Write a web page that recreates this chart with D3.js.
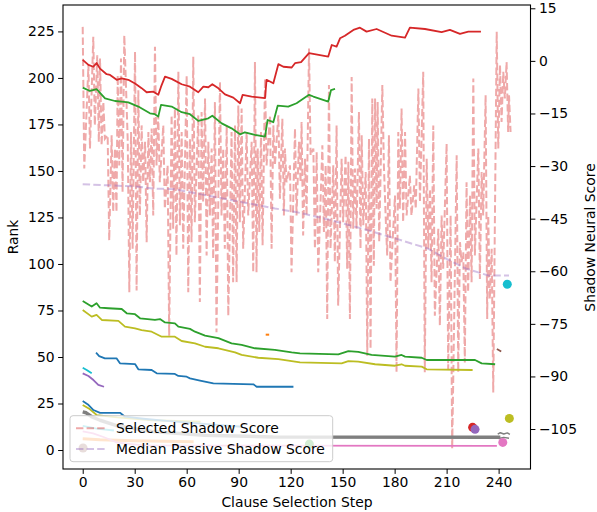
<!DOCTYPE html>
<html><head><meta charset="utf-8">
<script src="https://cdn.jsdelivr.net/npm/d3@7"></script>
<style>body{margin:0;background:#fff} text{font-family:"DejaVu Sans",sans-serif}</style>
</head><body><svg id="c" width="597" height="512"></svg>
<script>
// ---------- data ----------
const xTicks = [0,30,60,90,120,150,180,210,240];
const rankTicks = [0,25,50,75,100,125,150,175,200,225];
const scoreTicks = [15,0,-15,-30,-45,-60,-75,-90,-105];

// Selected Shadow Score: [step, spike top, spike bottom]
const selectedSpikes = [
[0,9.7,-30.7],[3.3,-1.2,-25.0],[6.1,6.9,-18.4],[8.4,1.6,-23.1],[10,0.7,-24.1],[11.9,-11.7,-22.2],
[14.4,-21.2,-51.2],[16.7,-21.2,-43.1],[18.6,-25.0,-43.1],[20.2,-4.1,-29.8],[22.1,0.7,-37.4],[24.0,7.3,-6.0],
[26.0,-23.1,-66.0],[27.9,-20.3,-53.6],[30.2,2.6,-65.5],[32.1,-8.4,-44.1],[34.0,-18.4,-34.6],[36.0,-23.1,-51.7],
[37.9,-20.3,-34.6],[39.8,-19.3,-44.1],[41.7,4.0,-29.8],[43.6,-15.5,-34.6],[46.5,-18.4,-42.2],[49.0,-29.8,-78.4],
[51.3,-15.5,-47.9],[53.2,-13.6,-55.5],[55.2,-3.1,-46.9],[57.1,-20.3,-53.6],[60.0,-4.1,-66.0],[61.9,-22.2,-51.7],
[63.8,1.2,-46.0],[66.7,-15.5,-68.8],[68.6,-14.6,-40.3],[70.6,-10.7,-55.5],[72.5,-23.1,-44.1],[74.4,-25.0,-56.5],
[76.3,-11.7,-77.4],[79.2,-6.0,-44.1],[81.1,-25.0,-53.6],[83.1,-18.4,-72.7],[85.9,-20.3,-63.1],[87.9,-18.4,-63.1],
[89.8,-12.7,-46.0],[91.7,-13.6,-53.6],[94.6,-20.3,-44.1],[97.5,-23.1,-60.3],[99.4,-0.3,-60.3],[101,-25.0,-48.8],
[102.9,-20.3,-52.6],[105.2,-5.0,-29.8],[108.1,-15.5,-53.6],[110,-18.4,-29.8],[112.9,-15.5,-39.3],[115.2,-16.5,-44.1],
[116.7,-25.0,-34.6],[119.6,-29.8,-60.3],[122.5,-19.3,-44.1],[124.8,-23.1,-34.6],[126.3,-17.4,-49.8],[128.3,-27.9,-44.1],
[130.6,3.5,-26.9],[133.1,-25.0,-53.6],[135,-26.0,-60.3],[138.3,-24.1,-48.8],[140.2,-29.8,-73.6],[142.1,-6.9,-53.6],
[144.6,-29.8,-57.4],[146.5,-18.4,-69.8],[149.4,-27.9,-46.0],[151.7,-26.9,-59.3],[153.3,-28.8,-73.6],[155.2,-4.6,-47.9],
[157.1,-30.7,-47.9],[159.4,-14.6,-53.6],[161,-21.2,-46.9],[163.3,-31.7,-84.1],[165.2,-22.2,-82.2],[167.1,-10.7,-58.4],
[168.7,-10.7,-42.2],[170.2,-11.7,-51.7],[172.9,-6.9,-29.8],[174.8,-44.1,-55.5],[176.7,-21.2,-63.1],[180.2,-38.4,-88.8],
[182.1,-20.3,-42.2],[184,-13.6,-46.0],[186,-20.3,-44.1],[188.8,-32.7,-44.1],[191.3,-35.5,-42.2],[193.7,-7.9,-40.3],
[196.5,-3.1,-88.8],[198.5,-27.9,-53.6],[200.4,-36.5,-63.1],[202.3,-18.4,-72.7],[205.2,-47.9,-75.5],[207.1,-44.1,-59.3],
[210,-23.6,-87.9],[212.3,-44.1,-110.7],[215.8,-26.9,-88.8],[217.7,-51.7,-57.4],[219.6,-54.6,-86.0],[221.5,-34.6,-66.0],
[223.5,-38.4,-63.1],[225.4,-5.0,-55.5],[228.3,-25.0,-62.2],[230.2,-31.7,-44.1],[232.5,-9.8,-73.6],[234,-44.1,-67.9],
[236,-53.6,-94.6],[238.9,8.3,-25.0],[240.8,-1.2,-17.4],[242.7,-3.1,-10.7],[244.6,-0.3,-20.3],[246,-9.8,-20.3]
];
const medianPassive = [[0,-35.2],[15,-35.5],[30,-35.8],[40.6,-36.4],[53,-36.6],[67.8,-38.0],[92,-40.3],[111,-42.1],
[123,-43.1],[140,-45],[161,-47.8],[180,-50.6],[199,-53.5],[210,-56.5],[221,-59.2],[234,-61.2],[246,-61.2]];

// Rank trajectories [step, rank]
const rankRed = [[0,209.7],[3.3,207],[6.1,206],[8,208],[10,205],[13.8,202],[15.8,201.6],[19.6,199],[22.5,199.8],[26.3,199],
[30.2,197],[34,194.5],[36.9,192.3],[40.8,192.6],[43.6,190.9],[45.2,195.3],[47.5,200.7],[51.3,199.5],[57.1,196.6],[61.9,195.3],
[66.7,192.3],[69.6,195.3],[72.5,195],[74.8,196.6],[78.3,194.4],[82.1,191.2],[86.9,189.4],[90.8,186.4],[92.3,190.9],[97.5,190],
[105.2,189.1],[106.1,199],[110,197.1],[112.9,207.4],[115.8,206],[120.6,205.6],[122.5,207.9],[126,208.5],[130.6,213.3],
[141.7,211.5],[143.7,217.7],[146.5,216.8],[148.5,221.3],[151.3,222.7],[156.2,225.8],[160,227],[163.8,224.9],[169.6,226.3],
[178.3,222.7],[186,221.7],[188.8,227],[197.5,226.3],[207.1,224.6],[211.9,225.8],[217.7,223.7],[222.5,224.9],[229.8,224.9]];
const rankGreenTop = [[0,194.8],[4.2,193],[8,194],[12.9,189],[18.6,187.6],[22.5,187.3],[26.3,186.9],[32.1,184.6],[38.8,181],
[41.7,180.5],[43.6,179.2],[45.2,185.5],[51.3,184.6],[57.1,181.6],[61.9,180.5],[66.7,176.9],[72.5,178.3],[74.8,179.7],
[80.2,175.6],[85.9,172.9],[90.8,169.7],[93.6,170.8],[99.4,169.4],[105.2,168.5],[106.7,177.4],[110,176.2],[112.5,185.1],
[118.6,184.6],[123.4,186.4],[130.6,190.9],[133.1,190],[141.7,187.3],[143.3,193.5],[145.6,194.1]];
const rankGreenLow = [[0,80.1],[5.2,77.1],[8,78.9],[10,76.5],[14.8,76.2],[22.5,75.8],[25.4,73.5],[30.2,73],[33.1,70.8],
[41.7,69.9],[44.6,70.4],[47.5,68.6],[53.2,68.1],[55.2,66.3],[61.9,65.1],[64.8,63.6],[70.6,61.5],[78.3,60.1],[85.9,57.3],
[91.7,56.5],[99.4,54.7],[110.9,53.8],[120.6,52.5],[125.4,52],[147.5,51.4],[153.3,53.2],[159,52.8],[166.7,51.1],[180.2,50.2],
[184,51.1],[186,50.2],[195.6,49.6],[198.5,48.4],[226.4,48.4],[230.2,46.6],[238,46.1]];
const rankOlive = [[0,75.3],[5.2,71.7],[8,72.6],[11,69.9],[20.6,69.4],[24.4,66.3],[30.2,65.4],[34,64.5],[39.8,63.6],[45.6,60.9],
[53.2,60.9],[57.1,58.6],[64.8,57.3],[70.6,55.5],[78.3,54.7],[87.9,52.5],[91.7,51.1],[101.3,49.6],[112.9,48.9],[125.4,47.1],
[149.4,46.6],[153.3,47.8],[159,47.5],[168.7,46.1],[180.2,45.3],[184,46.1],[186,45.3],[195.6,44.8],[198.5,43.4],[225,43]];
const rankBlue = [[7.7,52.3],[9.5,50.5],[12.8,49.3],[19.5,49.3],[21.5,46.6],[30.2,46.2],[32.1,43.4],[39.8,43],[42.7,41.2],
[53.2,40.9],[55.2,39.8],[60,39.4],[61.9,38.5],[67.7,37.3],[75.4,35.8],[98.5,35.3],[100.4,34],[121.6,34]];
const rankCyan = [[0,44.2],[2.3,43],[5.2,41.2]];
const rankPurple = [[0,41.2],[3.3,39.8],[6.2,37.6],[9,35],[12.3,34]];
const rankBlueLow = [[0,26.3],[3,24.5],[6.2,21.5],[10,20],[21.5,20],[24.4,17.9],[35,16.8],[50,15.5],[70,14],[92,12.5]];
const rankOliveLow = [[0,24.2],[4,22],[8.1,18.8],[20,17.5],[40,16],[68,15.2]];
const rankGray = [[0,20.5],[2,20],[5,18],[10,16],[20,13],[40,10],[70,8],[110,7],[241,6.8]];
const rankOrange = [[0,6],[10,5.5],[30,5],[64,4.5]];
const rankPink = [[0,10],[6,9],[12,7],[20,4],[35,2.5],[239,2.2]];
const rankCyanLow = [[0,13],[8,11.5],[18,10.5]];
const rankOrangeBit = [[105.6,62],[107.6,62]];
const rankBrownBit = [[239,54.3],[241.5,53]];
const rankGrayEndA = [[239.5,8.5],[241,9.3],[243,8.6],[245,9.2],[246.5,8.4]];
const rankGrayEndB = [[240,6.2],[243,6.8],[246,6.3]];
// final positions [step, rank, colour]
const finalDots = [[245,89.1,"cyan"],[246.2,17,"olive"],[225,12.2,"red"],[226.4,11.1,"purple"],[242.4,4.1,"pink"],
[130.8,3.2,"green"],[0.2,1.1,"brown"]];

const legendLabels = ["Selected Shadow Score","Median Passive Shadow Score"];

// ---------- drawing ----------
const FS = 13.9;
const C = {blue:"#1f77b4",orange:"#ff7f0e",green:"#2ca02c",red:"#d62728",purple:"#9467bd",brown:"#8c564b",
  pink:"#e377c2",gray:"#7f7f7f",olive:"#bcbd22",cyan:"#17becf"};
const L=63,R=530.5,T=5,B=469;
const x = d3.scaleLinear().domain([-11.37,258.4]).range([L,R]);
const y = d3.scaleLinear().domain([-10.2,239.2]).range([B,T]);
const y2 = d3.scaleLinear().domain([-116.4,15.94]).range([B,T]);
const svg = d3.select("#c");
svg.append("defs").append("clipPath").attr("id","pa").append("rect")
  .attr("x",L).attr("y",T).attr("width",R-L).attr("height",B-T);
const g = svg.append("g").attr("clip-path","url(#pa)");

const line1 = d3.line().x(d=>x(d[0])).y(d=>y(d[1]));
const line2 = d3.line().x(d=>x(d[0])).y(d=>y2(d[1]));

// shadow scores (right axis)
const selPts = selectedSpikes.flatMap(([s,t,b]) => [[s,t],[s+0.9,b]]);
g.append("path").attr("d",line2(selPts)).attr("fill","none").attr("stroke",C.red).attr("stroke-opacity",0.4)
  .attr("stroke-width",2).attr("stroke-dasharray","7.4,3.2");
g.append("path").attr("d",line2(medianPassive)).attr("fill","none").attr("stroke",C.purple).attr("stroke-opacity",0.4)
  .attr("stroke-width",2).attr("stroke-dasharray","7.4,3.2");

// rank lines
const rl = [
 [rankGray,"gray",3.5],[rankOrange,"orange",3],[rankPink,"pink",1.8],[rankCyanLow,"cyan",1.8],
 [rankOliveLow,"olive",1.8],[rankBlueLow,"blue",1.8],
 [rankRed,"red",1.8],[rankGreenTop,"green",1.8],[rankGreenLow,"green",1.8],[rankOlive,"olive",1.8],
 [rankBlue,"blue",1.8],[rankCyan,"cyan",1.8],[rankPurple,"purple",1.8],[rankOrangeBit,"orange",2],
 [rankBrownBit,"brown",1.8],[rankGrayEndA,"gray",1.5],[rankGrayEndB,"gray",1.5]
];
rl.forEach(([d,c,w]) => g.append("path").attr("d",line1(d)).attr("fill","none").attr("stroke",C[c])
  .attr("stroke-width",w).attr("stroke-linejoin","round"));
finalDots.forEach(([s,r,c]) => g.append("circle").attr("cx",x(s)).attr("cy",y(r)).attr("r",4.5).attr("fill",C[c]));

// legend
const lg = svg.append("g");
lg.append("rect").attr("x",70).attr("y",415.7).attr("width",262.7).attr("height",46).attr("rx",3)
  .attr("fill","#fff").attr("fill-opacity",0.8).attr("stroke","#cccccc").attr("stroke-width",1);
[[C.red,428.3],[C.purple,449]].forEach(([c,yy],i) => {
  lg.append("line").attr("x1",76).attr("x2",105).attr("y1",yy).attr("y2",yy).attr("stroke",c).attr("stroke-opacity",0.4)
    .attr("stroke-width",2).attr("stroke-dasharray","7.4,3.2");
  lg.append("text").attr("x",116).attr("y",yy).attr("dy","0.36em").attr("font-size",FS).attr("fill","#000")
    .text(legendLabels[i]);
});

// axes
const fmt = d => d < 0 ? "\u2212" + Math.abs(d) : String(d);
const ax = (sel) => { sel.select(".domain").remove(); sel.selectAll("text").attr("font-size",FS).attr("font-family","DejaVu Sans").attr("fill","#000");
  sel.selectAll("line").attr("stroke","#000").attr("stroke-width",1); };
svg.append("g").attr("transform",`translate(${L},0)`).call(d3.axisLeft(y).tickValues(rankTicks).tickSize(4.9).tickPadding(3.5)).call(ax);
svg.append("g").attr("transform",`translate(${R},0)`).call(d3.axisRight(y2).tickValues(scoreTicks).tickFormat(fmt).tickSize(4.9).tickPadding(3.5)).call(ax);
svg.append("g").attr("transform",`translate(0,${B})`).call(d3.axisBottom(x).tickValues(xTicks).tickSize(4.9).tickPadding(3.5)).call(ax);
svg.append("rect").attr("x",L).attr("y",T).attr("width",R-L).attr("height",B-T).attr("fill","none")
  .attr("stroke","#000").attr("stroke-width",1.1);

// axis titles
svg.append("text").attr("transform","translate(13,237) rotate(-90)").attr("text-anchor","middle").attr("dy","0.36em")
  .attr("font-size",FS).text("Rank");
svg.append("text").attr("transform","translate(589.5,237.5) rotate(-90)").attr("text-anchor","middle").attr("dy","0.36em")
  .attr("font-size",FS).text("Shadow Neural Score");
svg.append("text").attr("x",297).attr("y",507).attr("text-anchor","middle").attr("font-size",FS).text("Clause Selection Step");
</script></body></html>
